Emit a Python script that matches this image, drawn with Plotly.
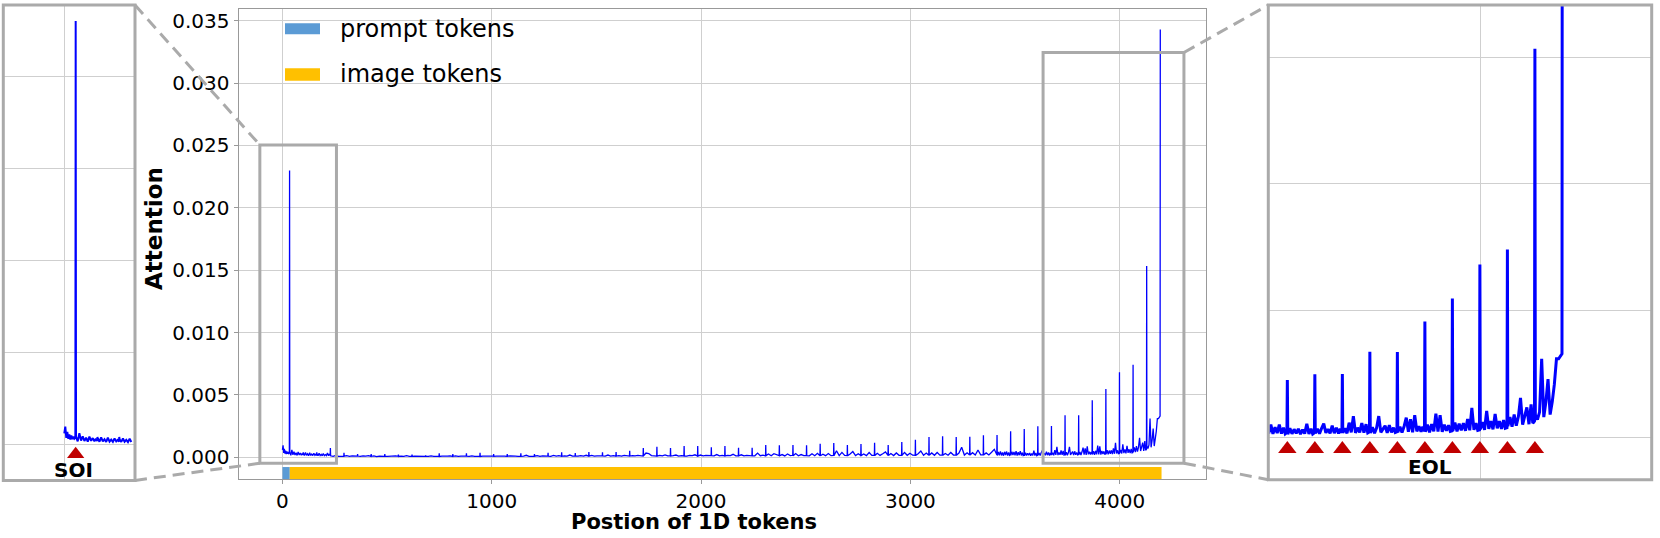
import plotly.graph_objects as go

# ------------------------------------------------------------------ data
# attention values are given in units of 1e-4 unless stated otherwise
prompt_pos = [0, 3, 6, 9, 12, 15, 18, 21, 24, 27, 30, 33]
prompt_att = [6.0, 9.6, 3.5, 6.8, 3.0, 5.4, 2.6, 4.8, 2.8, 4.2, 3.0, 3.6]
soi_pos = 34
soi_att = 0.0230            # absolute value
tokens_per_line = 65        # 64 image tokens + EOL
n_lines = 64

# EOL spike height for image lines 1..64
eol_att = [4.0, 4.0, 7.5, 3.7, 2.6, 2.6, 2.6, 2.1, 2.1, 1.6,
           3.2, 2.6, 3.2, 3.7, 2.6, 2.6, 3.2, 2.6, 3.7, 4.0,
           3.4, 4.2, 4.0, 4.2, 5.3, 7.5, 8.5, 7.5, 9.1, 9.1,
           8.0, 9.1, 7.7, 7.7, 9.9, 9.6, 9.9, 9.6, 10.9, 11.5,
           9.9, 10.7, 11.7, 9.9, 12.3, 14.1, 16.3, 16.8, 16.3, 16.5,
           17.6, 17.9, 20.8, 22.6, 24.9, 25.0, 33.8, 33.7, 45.7, 54.8,
           68.2, 74.1, 153.4, 343.0]

# in-line attention samples (offsets after the previous EOL)
dense_offsets = [1, 6, 11, 16, 21, 26, 31, 36, 41, 46, 51, 56, 60, 64]
sparse_offsets = [1, 13, 26, 39, 52, 64]

# lines 1..3 (dense sampling)
head_noise = [
    [4.0, 1.6, 6.0, 2.0, 4.4, 1.8, 3.6, 1.5, 4.2, 1.9, 3.4, 1.6, 3.0, 1.8],
    [3.4, 1.4, 3.8, 1.6, 2.8, 1.3, 3.6, 1.5, 2.6, 1.4, 3.2, 1.6, 2.4, 1.5],
    [2.8, 1.3, 3.2, 1.4, 2.4, 1.2, 3.0, 1.3, 2.2, 1.4, 3.4, 1.3, 2.6, 1.4],
]
# lines 4..52 (sparse sampling)
mid_noise = [
    [1.2, 0.8, 1.5, 0.7, 1.0, 0.9],
    [0.9, 1.3, 0.7, 1.1, 0.8, 1.0], [1.0, 0.7, 1.2, 0.9, 1.4, 0.8],
    [0.8, 1.1, 0.6, 1.0, 0.9, 0.7], [0.9, 0.7, 1.0, 0.8, 1.2, 0.8],
    [0.7, 1.0, 0.8, 1.3, 0.7, 0.9], [0.8, 0.9, 0.7, 1.0, 0.8, 0.7],
    [0.9, 0.7, 1.1, 0.8, 1.0, 0.8], [0.7, 1.0, 0.8, 0.9, 1.2, 0.7],
    [0.8, 1.1, 0.7, 1.0, 0.8, 0.9], [0.9, 0.8, 1.2, 0.7, 1.0, 0.8],
    [0.7, 1.0, 0.9, 1.3, 0.8, 0.9], [0.8, 0.9, 0.7, 1.1, 0.9, 0.8],
    [0.9, 1.2, 0.8, 1.0, 0.7, 0.9], [0.8, 1.0, 1.6, 0.8, 1.1, 0.9],
    [0.9, 1.4, 0.8, 1.2, 0.9, 1.0], [1.0, 0.8, 1.5, 0.9, 1.3, 0.8],
    [0.8, 1.2, 0.9, 1.8, 1.0, 0.9], [1.0, 0.9, 1.4, 1.0, 1.6, 0.9],
    [0.9, 1.5, 1.0, 1.2, 0.9, 1.1], [1.1, 0.9, 1.8, 1.0, 1.3, 0.9],
    [1.0, 1.3, 0.9, 1.6, 1.1, 1.0], [1.0, 1.4, 1.1, 1.6, 1.2, 1.0],
    [1.2, 3.4, 3.0, 1.4, 1.1, 1.0], [1.0, 1.5, 1.2, 1.9, 1.1, 1.2],
    [1.1, 1.3, 1.8, 1.0, 1.4, 1.1], [1.2, 1.0, 1.6, 1.3, 2.0, 1.0],
    [1.0, 1.8, 1.2, 1.5, 1.1, 1.3], [1.3, 1.1, 2.2, 1.2, 1.6, 1.1],
    [1.1, 1.6, 1.3, 2.4, 1.2, 1.4], [1.2, 2.0, 1.1, 1.5, 1.3, 1.2],
    [1.4, 1.2, 3.4, 1.3, 1.8, 1.2], [1.3, 2.6, 1.2, 2.9, 2.2, 1.3],
    [1.2, 2.2, 1.1, 2.6, 1.3, 1.6], [1.2, 3.0, 1.2, 2.2, 1.4, 1.3],
    [1.3, 1.2, 2.8, 1.3, 3.2, 1.3], [1.2, 2.5, 1.3, 3.0, 1.3, 1.5],
    [1.3, 5.3, 1.3, 3.9, 1.5, 1.4], [1.3, 2.7, 4.6, 1.4, 2.9, 1.4],
    [1.4, 2.6, 1.3, 3.8, 1.5, 1.5], [1.4, 3.2, 1.5, 2.8, 4.3, 1.5],
    [1.5, 3.0, 1.4, 3.5, 1.6, 1.6], [1.5, 3.9, 1.6, 3.2, 1.7, 1.6],
    [1.5, 2.9, 5.1, 1.6, 3.4, 1.7], [1.6, 3.5, 1.6, 3.9, 1.7, 1.8],
    [1.7, 3.1, 1.7, 3.9, 1.8, 1.8], [1.7, 3.4, 8.0, 1.8, 3.6, 1.9],
    [1.8, 3.7, 1.8, 5.9, 1.9, 2.0], [1.9, 3.5, 1.9, 4.0, 6.4, 2.1],
]
# lines 53..64 (dense sampling)
tail_noise = [
    [1.4, 4.2, 1.6, 4.8, 1.5, 3.8, 1.3, 4.4, 1.8, 4.6, 1.4, 3.9, 1.6, 2.2],
    [1.5, 4.4, 1.8, 4.2, 1.6, 5.0, 1.4, 4.0, 1.7, 5.0, 1.5, 3.8, 1.4, 2.0],
    [1.2, 3.6, 1.4, 3.2, 1.6, 3.4, 1.3, 3.0, 1.5, 5.4, 1.4, 3.4, 1.3, 1.8],
    [1.6, 3.4, 1.5, 3.6, 5.4, 1.8, 3.2, 1.6, 4.6, 1.7, 3.8, 1.5, 3.4, 1.8],
    [1.8, 3.6, 1.6, 5.8, 2.0, 8.4, 1.8, 3.8, 2.0, 5.6, 1.9, 5.2, 1.8, 2.2],
    [1.7, 4.0, 1.6, 3.8, 8.4, 2.0, 3.6, 4.6, 1.8, 4.8, 2.0, 3.8, 1.9, 2.2],
    [2.0, 4.2, 1.9, 4.4, 7.8, 2.2, 7.2, 2.0, 8.8, 2.4, 4.4, 2.2, 4.2, 2.4],
    [2.2, 5.0, 2.0, 5.2, 2.4, 9.4, 2.3, 8.8, 2.2, 5.0, 2.6, 4.8, 2.4, 2.6],
    [2.6, 5.8, 2.4, 5.4, 2.8, 5.6, 2.6, 7.2, 2.8, 11.6, 3.0, 5.6, 2.8, 3.0],
    [3.2, 6.0, 3.0, 10.4, 3.4, 6.4, 3.2, 9.2, 3.6, 6.4, 3.4, 6.8, 3.6, 3.8],
    [4.4, 8.0, 4.2, 9.0, 4.6, 8.2, 15.6, 5.0, 9.0, 11.8, 5.2, 13.0, 5.6, 6.4],
    [9.0, 7.0, 10.0, 31.0, 8.0, 14.0, 23.0, 9.0, 14.0, 21.0, 31.0, 31.0, 32.0, 33.0],
]

segment_names = ["prompt tokens", "image tokens"]
segment_start = [0, 35]
segment_end = [35, 4200]

x_ticks = [0, 1000, 2000, 3000, 4000]
y_ticks = [0.0, 0.005, 0.010, 0.015, 0.020, 0.025, 0.030, 0.035]
eol_marked_lines = [54, 55, 56, 57, 58, 59, 60, 61, 62, 63]

# zoomed regions drawn in the main chart: [x0, x1], [y0, y1]
zoom_left = [[-108, 258], [-0.00048, 0.02504]]
zoom_right = [[3634, 4307], [-0.00047, 0.03245]]

# ------------------------------------------------------------------ build series
SCALE = 1e-4
line_samples = ([(dense_offsets, v) for v in head_noise]
                + [(sparse_offsets, v) for v in mid_noise]
                + [(dense_offsets, v) for v in tail_noise])
xs = list(prompt_pos) + [soi_pos]
ys = [v * SCALE for v in prompt_att] + [soi_att]
eol_pos = []
for k in range(1, n_lines + 1):
    prev = soi_pos + tokens_per_line * (k - 1)
    offs, vals = line_samples[k - 1]
    for o, v in zip(offs, vals):
        xs.append(prev + o)
        ys.append(v * SCALE)
    e = prev + tokens_per_line
    eol_pos.append(e)
    xs.append(e)
    ys.append(eol_att[k - 1] * SCALE)

# ------------------------------------------------------------------ layout geometry
W, H = 1660, 538
def px_dom(a, b, total):
    return [a / total, b / total]
def py_dom(top, bottom):
    return [(H - bottom) / H, (H - top) / H]

main_xdom, main_ydom = px_dom(238.5, 1205.5, W), py_dom(8.5, 479)
main_xr, main_yr = [-210, 4410], [-0.00174, 0.03598]
l_xdom, l_ydom = px_dom(3.3, 135, W), py_dom(5.1, 480.4)
l_xr, l_yr = [-182, 211], [-0.00196, 0.02387]
r_xdom, r_ydom = px_dom(1268.3, 1651.7, W), py_dom(5.1, 479.7)
r_xr, r_yr = [3499, 4405], [-0.00167, 0.01706]

def to_paper(v, rng, dom):
    return dom[0] + (v - rng[0]) / (rng[1] - rng[0]) * (dom[1] - dom[0])

BLUE = "#0000ff"
GRID = "#cfcfcf"
BOX = "#aaaaaa"
SEG_COLORS = ["#5B9BD5", "#FFC000"]
TRI = "#c00000"
FONT = "DejaVu Sans"

fig = go.Figure()

# main line
fig.add_trace(go.Scatter(x=xs, y=ys, mode="lines", line=dict(color=BLUE, width=1.3),
                         xaxis="x", yaxis="y", showlegend=False, hoverinfo="skip"))
# token segment bars
bar_y, bar_w = -0.00126, 0.00096
for name, s, e, c in zip(segment_names, segment_start, segment_end, SEG_COLORS):
    fig.add_trace(go.Bar(x=[e - s], base=[s], y=[bar_y], width=[bar_w], orientation="h",
                         marker=dict(color=c, line=dict(width=0)), name=name,
                         xaxis="x", yaxis="y", showlegend=False, hoverinfo="skip"))

# left inset
lx = [x for x in xs if x <= 200]
ly = ys[:len(lx)]
fig.add_trace(go.Scatter(x=lx, y=ly, mode="lines", line=dict(color=BLUE, width=2),
                         xaxis="x2", yaxis="y2", showlegend=False, hoverinfo="skip"))
fig.add_trace(go.Scatter(x=[soi_pos], y=[-0.00054], mode="markers",
                         marker=dict(symbol="triangle-up", size=15, color=TRI),
                         xaxis="x2", yaxis="y2", showlegend=False, hoverinfo="skip"))
# right inset
rx = [x for x in xs if x >= 3400]
ry = ys[len(xs) - len(rx):]
fig.add_trace(go.Scatter(x=rx, y=ry, mode="lines", line=dict(color=BLUE, width=3),
                         xaxis="x3", yaxis="y3", showlegend=False, hoverinfo="skip"))
fig.add_trace(go.Scatter(x=[eol_pos[k - 1] for k in eol_marked_lines],
                         y=[-0.000454] * len(eol_marked_lines), mode="markers",
                         marker=dict(symbol="triangle-up", size=16, color=TRI),
                         xaxis="x3", yaxis="y3", showlegend=False, hoverinfo="skip"))

tickfont = dict(family=FONT, size=20, color="black")
fig.update_layout(
    width=W, height=H, margin=dict(l=0, r=0, t=0, b=0), autosize=False,
    paper_bgcolor="white", plot_bgcolor="white", barmode="overlay",
    xaxis=dict(domain=main_xdom, range=main_xr, anchor="y", tickvals=x_ticks,
               showgrid=True, gridcolor=GRID, gridwidth=1, zeroline=False,
               showline=True, mirror=True, linecolor="#999999", linewidth=1,
               ticks="outside", ticklen=4, tickcolor="#999999", tickfont=tickfont),
    yaxis=dict(domain=main_ydom, range=main_yr, anchor="x", tickvals=y_ticks,
               tickformat=".3f", showgrid=True, gridcolor=GRID, gridwidth=1,
               zeroline=False, showline=True, mirror=True, linecolor="#999999",
               linewidth=1, ticks="outside", ticklen=4, tickcolor="#999999",
               tickfont=tickfont),
    xaxis2=dict(domain=l_xdom, range=l_xr, anchor="y2", tickvals=[0],
                showticklabels=False, showgrid=True, gridcolor=GRID, zeroline=False,
                showline=False, ticks=""),
    yaxis2=dict(domain=l_ydom, range=l_yr, anchor="x2", tickvals=y_ticks[:5],
                showticklabels=False, showgrid=True, gridcolor=GRID, zeroline=False,
                showline=False, ticks=""),
    xaxis3=dict(domain=r_xdom, range=r_xr, anchor="y3", tickvals=[4000],
                showticklabels=False, showgrid=True, gridcolor=GRID, zeroline=False,
                showline=False, ticks=""),
    yaxis3=dict(domain=r_ydom, range=r_yr, anchor="x3", tickvals=y_ticks[:4],
                showticklabels=False, showgrid=True, gridcolor=GRID, zeroline=False,
                showline=False, ticks=""),
)

shapes = []
# inset frames
for ax in ["2", "3"]:
    shapes.append(dict(type="rect", xref=f"x{ax} domain", yref=f"y{ax} domain",
                       x0=0, x1=1, y0=0, y1=1, line=dict(color=BOX, width=3), layer="above"))
# zoom boxes on main chart
for zb in [zoom_left, zoom_right]:
    shapes.append(dict(type="rect", xref="x", yref="y", x0=zb[0][0], x1=zb[0][1],
                       y0=zb[1][0], y1=zb[1][1], line=dict(color=BOX, width=3),
                       layer="above"))
# connector lines (paper coords)
dash = "12px,7px"
lb_top = (to_paper(zoom_left[0][0], main_xr, main_xdom), to_paper(zoom_left[1][1], main_yr, main_ydom))
lb_bot = (to_paper(zoom_left[0][0], main_xr, main_xdom), to_paper(zoom_left[1][0], main_yr, main_ydom))
rb_top = (to_paper(zoom_right[0][1], main_xr, main_xdom), to_paper(zoom_right[1][1], main_yr, main_ydom))
rb_bot = (to_paper(zoom_right[0][1], main_xr, main_xdom), to_paper(zoom_right[1][0], main_yr, main_ydom))
connectors = [
    ((l_xdom[1], l_ydom[1]), lb_top),
    ((l_xdom[1], l_ydom[0]), lb_bot),
    (rb_top, (r_xdom[0], r_ydom[1])),
    (rb_bot, (r_xdom[0], r_ydom[0])),
]
for (a, b) in connectors:
    shapes.append(dict(type="line", xref="paper", yref="paper", x0=a[0], y0=a[1],
                       x1=b[0], y1=b[1], line=dict(color=BOX, width=3, dash=dash),
                       layer="above"))
# legend patches
leg_rows = [(23.3, 34.3), (68.3, 80.7)]
for (t, b), c in zip(leg_rows, SEG_COLORS):
    shapes.append(dict(type="rect", xref="paper", yref="paper",
                       x0=285 / W, x1=320 / W, y0=(H - b) / H, y1=(H - t) / H,
                       line=dict(width=0), fillcolor=c, layer="above"))
fig.update_layout(shapes=shapes)

ann = []
for name, yc in zip(segment_names, [29.5, 74.5]):
    ann.append(dict(text=name, x=338 / W, y=(H - yc) / H, xref="paper", yref="paper",
                    xanchor="left", yanchor="middle", showarrow=False,
                    font=dict(family=FONT, size=24, color="black")))
ann.append(dict(text="Attention", x=154 / W, y=(H - 229) / H, xref="paper", yref="paper",
                textangle=-90, showarrow=False, xanchor="center", yanchor="middle",
                font=dict(family=FONT, size=23, color="black", weight="bold")))
ann.append(dict(text="Postion of 1D tokens", x=694 / W, y=(H - 522) / H, xref="paper",
                yref="paper", showarrow=False, xanchor="center", yanchor="middle",
                font=dict(family=FONT, size=21, color="black", weight="bold")))
ann.append(dict(text="SOI", x=73.5 / W, y=(H - 470) / H, xref="paper", yref="paper",
                showarrow=False, xanchor="center", yanchor="middle",
                font=dict(family=FONT, size=20, color="black", weight="bold")))
ann.append(dict(text="EOL", x=1430.3 / W, y=(H - 467) / H, xref="paper", yref="paper",
                showarrow=False, xanchor="center", yanchor="middle",
                font=dict(family=FONT, size=20, color="black", weight="bold")))
fig.update_layout(annotations=ann)

fig.write_html(
    "out.html",
    config={"displayModeBar": False},
    post_script="document.body.style.margin='0';document.body.style.padding='0';"
                "document.documentElement.style.overflow='hidden';",
)
